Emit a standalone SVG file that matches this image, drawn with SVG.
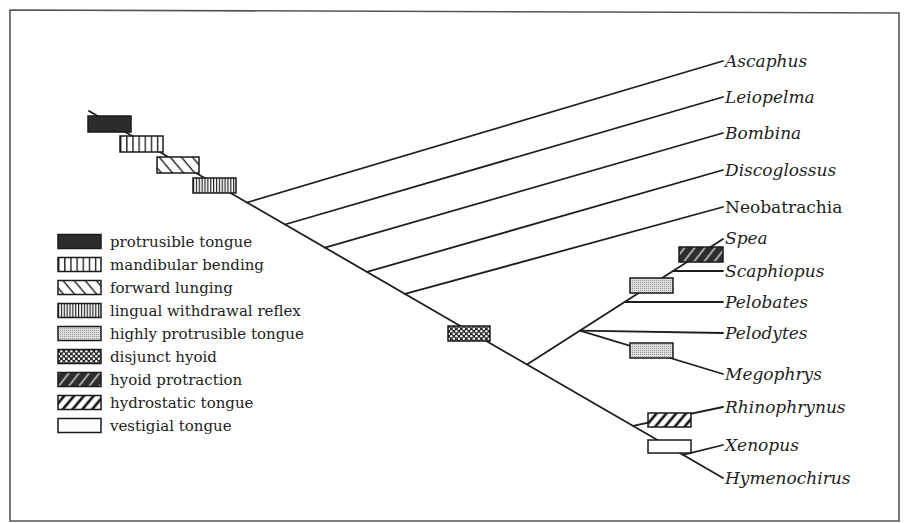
<svg xmlns="http://www.w3.org/2000/svg" width="905" height="523" viewBox="0 0 905 523">
<defs>
<style>
.ln{stroke:#1e1e1e;stroke-width:1.8;fill:none;stroke-linecap:round}
.bx{stroke:#1a1a1a;stroke-width:1.5}
.lab{font-family:"DejaVu Serif","Liberation Serif",serif;font-size:17px;font-style:italic;fill:#1e1e1e}
.up{font-style:normal}
.leg{font-family:"DejaVu Serif","Liberation Serif",serif;font-size:15px;fill:#222}
.frame{fill:none;stroke:#555;stroke-width:1.6}
</style>
<pattern id="pMand" patternUnits="objectBoundingBox" width="0.142857" height="1">
<rect x="0" y="0" width="10" height="20" fill="#fff"/>
<line x1="0.7" y1="0" x2="0.7" y2="20" stroke="#111" stroke-width="1.3"/>
</pattern>
<pattern id="pLing" patternUnits="objectBoundingBox" width="0.0666667" height="1">
<rect x="0" y="0" width="10" height="20" fill="#fff"/>
<line x1="0.6" y1="0" x2="0.6" y2="20" stroke="#111" stroke-width="1.1"/>
</pattern>
<pattern id="pFwd" patternUnits="userSpaceOnUse" width="8.5" height="8.5" patternTransform="rotate(-40)">
<rect x="0" y="0" width="8.5" height="8.5" fill="#fff"/>
<line x1="4" y1="0" x2="4" y2="8.5" stroke="#111" stroke-width="1.3"/>
</pattern>
<pattern id="pHydro" patternUnits="userSpaceOnUse" width="7.5" height="7.5" patternTransform="rotate(40)">
<rect x="0" y="0" width="7.5" height="7.5" fill="#fff"/>
<line x1="3.7" y1="0" x2="3.7" y2="7.5" stroke="#111" stroke-width="2.6"/>
</pattern>
<pattern id="pHyoid" patternUnits="userSpaceOnUse" width="8" height="8" patternTransform="rotate(38)">
<rect x="0" y="0" width="8" height="8" fill="#2e2e2e"/>
<line x1="4" y1="0" x2="4" y2="8" stroke="#e8e8e8" stroke-width="1.3"/>
</pattern>
<pattern id="pDisj" patternUnits="userSpaceOnUse" width="5" height="5">
<rect x="0" y="0" width="5" height="5" fill="#2a2a2a"/>
<circle cx="1.3" cy="1.3" r="1.25" fill="#f2f2f2"/>
<circle cx="3.8" cy="3.8" r="1.25" fill="#f2f2f2"/>
</pattern>
<pattern id="pHigh" patternUnits="userSpaceOnUse" width="2" height="2">
<rect x="0" y="0" width="2" height="2" fill="#dedede"/>
<rect x="0" y="0" width="1" height="1" fill="#9c9c9c"/>
</pattern>
</defs>

<rect x="0" y="0" width="905" height="523" fill="#fff"/>
<path class="frame" d="M10,10 L899,13 L899,521 L10,521 Z"/>

<g id="connectors">
<path class="ln" d="M89,111 L723,478"/>
<path class="ln" d="M247,202.5 L723,61"/>
<path class="ln" d="M285,224.5 L723,97"/>
<path class="ln" d="M325,247.6 L723,133"/>
<path class="ln" d="M367,271.9 L723,170"/>
<path class="ln" d="M405,293.9 L723,207"/>
<path class="ln" d="M527,364.6 L723,239"/>
<path class="ln" d="M580,330.6 L723,333"/>
<path class="ln" d="M580,330.6 L723,374"/>
<path class="ln" d="M625,302 L723,302"/>
<path class="ln" d="M673,271 L723,271"/>
<path class="ln" d="M633,425.9 L723,407"/>
<path class="ln" d="M683,454.9 L723,445"/>
</g>

<g id="char-protrusible"><rect class="bx" x="88" y="116" width="43" height="16" fill="#2c2c2c"/></g>
<g id="char-mandibular"><rect class="bx" x="120" y="136" width="43" height="16" fill="url(#pMand)"/></g>
<g id="char-forward"><rect class="bx" x="157" y="157" width="42" height="16" fill="url(#pFwd)"/></g>
<g id="char-lingual"><rect class="bx" x="193" y="178" width="43" height="15" fill="url(#pLing)"/></g>
<g id="char-disjunct"><rect class="bx" x="448" y="326" width="42" height="15" fill="url(#pDisj)"/></g>
<g id="char-highly-1"><rect class="bx" x="630" y="278" width="43" height="15" fill="url(#pHigh)"/></g>
<g id="char-hyoid"><rect class="bx" x="679" y="247" width="44" height="15" fill="url(#pHyoid)"/></g>
<g id="char-highly-2"><rect class="bx" x="630" y="343" width="43" height="15" fill="url(#pHigh)"/></g>
<g id="char-hydrostatic"><rect class="bx" x="648" y="413" width="43" height="14" fill="url(#pHydro)"/></g>
<g id="char-vestigial"><rect class="bx" x="648" y="440" width="43" height="13" fill="#fff"/></g>

<g id="taxon-ascaphus"><text class="lab" x="725" y="67">Ascaphus</text></g>
<g id="taxon-leiopelma"><text class="lab" x="725" y="103">Leiopelma</text></g>
<g id="taxon-bombina"><text class="lab" x="725" y="139">Bombina</text></g>
<g id="taxon-discoglossus"><text class="lab" x="725" y="176">Discoglossus</text></g>
<g id="taxon-neobatrachia"><text class="lab up" x="725" y="213">Neobatrachia</text></g>
<g id="taxon-spea"><text class="lab" x="725" y="244">Spea</text></g>
<g id="taxon-scaphiopus"><text class="lab" x="725" y="277">Scaphiopus</text></g>
<g id="taxon-pelobates"><text class="lab" x="725" y="308">Pelobates</text></g>
<g id="taxon-pelodytes"><text class="lab" x="725" y="339">Pelodytes</text></g>
<g id="taxon-megophrys"><text class="lab" x="725" y="380">Megophrys</text></g>
<g id="taxon-rhinophrynus"><text class="lab" x="725" y="413">Rhinophrynus</text></g>
<g id="taxon-xenopus"><text class="lab" x="725" y="451">Xenopus</text></g>
<g id="taxon-hymenochirus"><text class="lab" x="725" y="484">Hymenochirus</text></g>

<g id="legend">
<g id="leg-protrusible"><rect class="bx" x="58" y="234.5" width="43" height="14" fill="#2c2c2c"/><text class="leg" x="110" y="246.5">protrusible tongue</text></g>
<g id="leg-mandibular"><rect class="bx" x="58" y="257.5" width="43" height="14" fill="url(#pMand)"/><text class="leg" x="110" y="269.5">mandibular bending</text></g>
<g id="leg-forward"><rect class="bx" x="58" y="280.5" width="43" height="14" fill="url(#pFwd)"/><text class="leg" x="110" y="292.5">forward lunging</text></g>
<g id="leg-lingual"><rect class="bx" x="58" y="303.5" width="43" height="14" fill="url(#pLing)"/><text class="leg" x="110" y="315.5">lingual withdrawal reflex</text></g>
<g id="leg-highly"><rect class="bx" x="58" y="326.5" width="43" height="14" fill="url(#pHigh)"/><text class="leg" x="110" y="338.5">highly protrusible tongue</text></g>
<g id="leg-disjunct"><rect class="bx" x="58" y="349.5" width="43" height="14" fill="url(#pDisj)"/><text class="leg" x="110" y="361.5">disjunct hyoid</text></g>
<g id="leg-hyoid"><rect class="bx" x="58" y="372.5" width="43" height="14" fill="url(#pHyoid)"/><text class="leg" x="110" y="384.5">hyoid protraction</text></g>
<g id="leg-hydrostatic"><rect class="bx" x="58" y="395.5" width="43" height="14" fill="url(#pHydro)"/><text class="leg" x="110" y="407.5">hydrostatic tongue</text></g>
<g id="leg-vestigial"><rect class="bx" x="58" y="418.5" width="43" height="14" fill="#fff"/><text class="leg" x="110" y="430.5">vestigial tongue</text></g>
</g>
</svg>
